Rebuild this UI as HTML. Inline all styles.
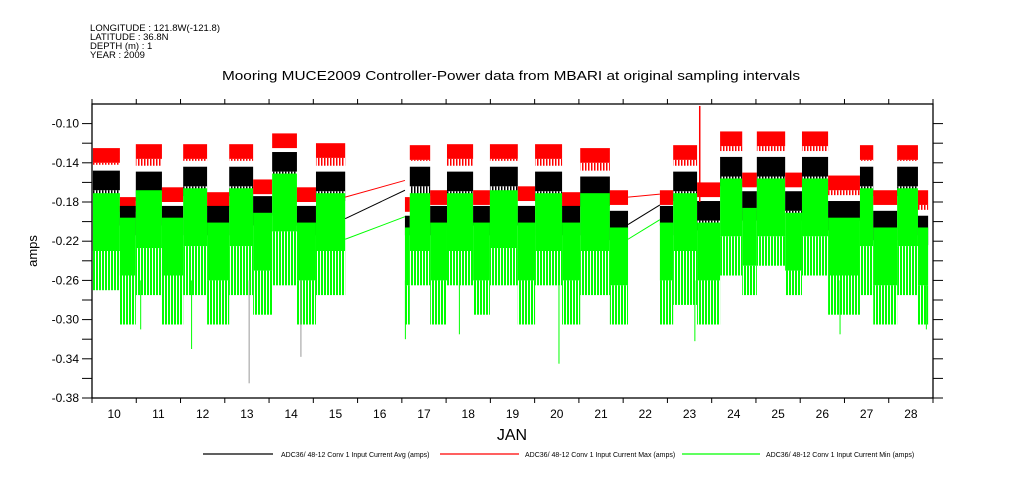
<!DOCTYPE html>
<html><head><meta charset="utf-8"><style>
html,body{margin:0;padding:0;background:#fff;}
svg{display:block;font-family:"Liberation Sans",sans-serif;}
</style></head><body>
<svg id="chart" width="1009" height="504" viewBox="0 0 1009 504" xmlns="http://www.w3.org/2000/svg">
<defs>
<pattern id="gstripe" width="3" height="2" patternUnits="userSpaceOnUse"><rect x="0" y="0" width="2" height="2" fill="#0f0"/></pattern>
<pattern id="rstripe" width="3" height="2" patternUnits="userSpaceOnUse"><rect x="0" y="0" width="1.5" height="2" fill="#f00"/></pattern>
<pattern id="kstripe" width="3" height="2" patternUnits="userSpaceOnUse"><rect x="0" y="0" width="1.5" height="2" fill="#000"/></pattern>
</defs>
<g font-size="9.5" fill="#000">
<text x="90" y="31" textLength="130">LONGITUDE : 121.8W(-121.8)</text>
<text x="90" y="40">LATITUDE : 36.8N</text>
<text x="90" y="49">DEPTH (m) : 1</text>
<text x="90" y="58">YEAR : 2009</text>
</g>
<text x="222" y="80" textLength="578" lengthAdjust="spacingAndGlyphs" font-size="13">Mooring MUCE2009 Controller-Power data from MBARI at original sampling intervals</text>
<text transform="translate(37,251) rotate(-90)" text-anchor="middle" font-size="13">amps</text>
<text x="512" y="440" text-anchor="middle" font-size="16">JAN</text>
<g id="series"></g>
<g id="axes"></g>
<g font-size="7">
<line x1="203" y1="454" x2="273" y2="454" stroke="#000" stroke-width="1.2"/>
<text x="281" y="457">ADC36/ 48-12 Conv 1 Input Current Avg (amps)</text>
<line x1="440" y1="454" x2="519" y2="454" stroke="#f00" stroke-width="1.2"/>
<text x="525" y="457">ADC36/ 48-12 Conv 1 Input Current Max (amps)</text>
<line x1="682" y1="454" x2="760" y2="454" stroke="#0f0" stroke-width="1.2"/>
<text x="766" y="457">ADC36/ 48-12 Conv 1 Input Current Min (amps)</text>
</g>
</svg>
<script>
// block data (day of January, values in amps)
const blockStart=[10.02,10.63,10.99,11.58,12.06,12.6,13.1,13.64,14.07,14.63,15.06, 17.07,17.18,17.64,18.02,18.61,18.99,19.62,20.01,20.62,21.03,21.7, 22.83,23.13,23.67,24.19,24.69,25.02,25.66,26.04,26.63,27.35,27.65,28.19,28.66];
const blockEnd=[10.63,10.99,11.58,12.06,12.6,13.1,13.64,14.07,14.63,15.06,15.72, 17.18,17.64,18.02,18.61,18.99,19.62,20.01,20.62,21.03,21.7,22.11, 23.13,23.67,24.19,24.69,25.02,25.66,26.04,26.63,27.35,27.65,28.19,28.66,28.89];
const maxVal=[-0.125,-0.175,-0.121,-0.165,-0.121,-0.17,-0.121,-0.157,-0.11,-0.165,-0.12, -0.175,-0.122,-0.168,-0.121,-0.168,-0.121,-0.164,-0.121,-0.17,-0.125,-0.168, -0.168,-0.122,-0.16,-0.108,-0.15,-0.108,-0.15,-0.108,-0.153,-0.122,-0.168,-0.122,-0.168];
const avgVal=[-0.154,-0.19,-0.155,-0.19,-0.15,-0.19,-0.15,-0.18,-0.135,-0.19,-0.155, -0.2,-0.15,-0.19,-0.155,-0.19,-0.15,-0.19,-0.155,-0.19,-0.16,-0.195, -0.19,-0.155,-0.185,-0.14,-0.175,-0.14,-0.175,-0.14,-0.185,-0.15,-0.195,-0.15,-0.2];
const minTop=[-0.175,-0.2,-0.172,-0.2,-0.17,-0.205,-0.17,-0.195,-0.155,-0.205,-0.175, -0.21,-0.175,-0.205,-0.175,-0.205,-0.172,-0.205,-0.175,-0.205,-0.175,-0.21, -0.205,-0.175,-0.205,-0.16,-0.19,-0.16,-0.195,-0.16,-0.2,-0.17,-0.21,-0.17,-0.21];
const minBot=[-0.255,-0.29,-0.26,-0.29,-0.26,-0.29,-0.26,-0.28,-0.25,-0.29,-0.26, -0.29,-0.25,-0.29,-0.25,-0.28,-0.25,-0.29,-0.25,-0.29,-0.26,-0.29, -0.29,-0.27,-0.29,-0.24,-0.26,-0.23,-0.26,-0.24,-0.28,-0.26,-0.29,-0.26,-0.29];
// gap connector lines [startDay,endDay]
const gapDays=[[15.72,17.07],[22.11,22.83]];
const gapMax=[[-0.175,-0.158],[-0.175,-0.172]];
const gapAvg=[[-0.197,-0.168],[-0.203,-0.183]];
const gapMin=[[-0.218,-0.195],[-0.218,-0.198]];
// spikes
const spikeDay=[13.55,14.72,20.55,23.62,12.25,17.08,11.1,18.3,26.9,28.85];
const spikeMin=[-0.365,-0.338,-0.345,-0.322,-0.33,-0.32,-0.31,-0.315,-0.315,-0.31];
const maxSpikeDay=[23.73];
const maxSpikeVal=[-0.082];
const yTicks=[-0.10,-0.12,-0.14,-0.16,-0.18,-0.20,-0.22,-0.24,-0.26,-0.28,-0.30,-0.32,-0.34,-0.36,-0.38];
const yLabels=["-0.10","-0.14","-0.18","-0.22","-0.26","-0.30","-0.34","-0.38"];
const xLabels=["10","11","12","13","14","15","16","17","18","19","20","21","22","23","24","25","26","27","28"];

const L=92,R=933,T=104,B=398,D0=10,D1=29,V0=-0.38,V1=-0.08;
const X=d=>L+(d-D0)/(D1-D0)*(R-L);
const Y=v=>B-(v-V0)/(V1-V0)*(B-T);
const NS="http://www.w3.org/2000/svg";
const ser=document.getElementById('series'),ax=document.getElementById('axes');
function mk(tag,attrs,parent){const e=document.createElementNS(NS,tag);for(const k in attrs)e.setAttribute(k,attrs[k]);parent.appendChild(e);return e;}
function band(x1,x2,vTop,vBot,fill,name){
  const r=mk('rect',{x:x1,y:Y(vTop),width:Math.max(0,x2-x1),height:Math.max(0,Y(vBot)-Y(vTop)),fill:fill},ser);
  
  
}
for(let i=0;i<blockStart.length;i++){
  const x1=X(blockStart[i]),x2=X(blockEnd[i]);
  band(x1,x2,maxVal[i],maxVal[i]-0.015,'#f00','max-band');
  band(x1,x2,maxVal[i]-0.015,avgVal[i]+0.012,'url(#rstripe)','max-band-fuzz');
  band(x1,x2,avgVal[i]+0.006,avgVal[i]-0.014,'#000','avg-band');
  band(x1,x2,avgVal[i]-0.014,avgVal[i]-0.024,'url(#kstripe)','avg-band-fuzz');
  band(x1,x2,minTop[i]+0.004,minTop[i]-0.055,'#0f0','min-band');
  band(x1,x2,minTop[i]-0.055,minBot[i]-0.015,'url(#gstripe)','min-band-fuzz');
}
const gapSets=[[gapMax,'#f00','max-gap-line'],[gapAvg,'#000','avg-gap-line'],[gapMin,'#0f0','min-gap-line']];
gapSets.forEach(s=>{for(let i=0;i<gapDays.length;i++){
  const l=mk('line',{x1:X(gapDays[i][0]),y1:Y(s[0][i][0]),x2:X(gapDays[i][1]),y2:Y(s[0][i][1]),stroke:s[1],'stroke-width':1},ser);
  
  
}});
for(let i=0;i<spikeDay.length;i++){
  const l=mk('line',{x1:X(spikeDay[i]),x2:X(spikeDay[i]),y1:Y(-0.26),y2:Y(spikeMin[i]),stroke:i<2?'#999':'#0f0','stroke-width':1},ser);
  
  
}
for(let i=0;i<maxSpikeDay.length;i++){
  const l=mk('line',{x1:X(maxSpikeDay[i]),x2:X(maxSpikeDay[i]),y1:Y(-0.18),y2:Y(maxSpikeVal[i]),stroke:'#f00','stroke-width':1.5},ser);
  
  
}
// axes
const frame=mk('rect',{x:L,y:T,width:R-L,height:B-T,fill:'none',stroke:'#000','stroke-width':1.3},ax);


yTicks.forEach(v=>{
  const y=Y(v);
  const t1=mk('line',{x1:L-10,x2:L,y1:y,y2:y,stroke:'#000'},ax);
  
  
  const t2=mk('line',{x1:R,x2:R+10,y1:y,y2:y,stroke:'#000'},ax);
  
  
});
yLabels.forEach(s=>{
  const t=mk('text',{x:L-13,y:Y(parseFloat(s))+4,'text-anchor':'end','font-size':12},ax);
  t.textContent=s;
  
  
});
for(let d=D0;d<=D1;d++){
  const x=X(d);
  const a=mk('line',{x1:x,x2:x,y1:B,y2:B+5,stroke:'#000'},ax);
  
  
  const b=mk('line',{x1:x,x2:x,y1:T-5,y2:T,stroke:'#000'},ax);
  
  
}
xLabels.forEach(s=>{
  const t=mk('text',{x:X(parseInt(s)+0.5),y:B+20,'text-anchor':'middle','font-size':12},ax);
  t.textContent=s;
  
  
});
</script>
</body></html>
